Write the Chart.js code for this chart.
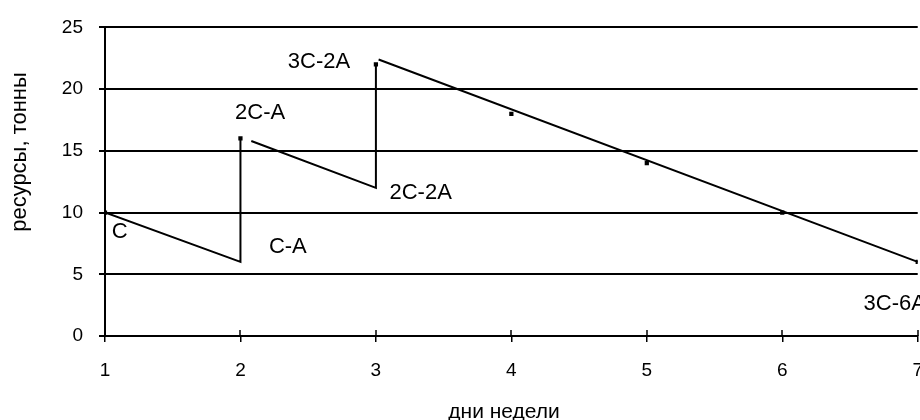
<!DOCTYPE html>
<html>
<head>
<meta charset="utf-8">
<script src="https://cdn.jsdelivr.net/npm/chart.js@4"></script>
<style>
  html, body { margin: 0; padding: 0; background: #fff; overflow: hidden; }
  #wrap { width: 940px; height: 420px; }
</style>
</head>
<body>
<div id="wrap"><canvas id="resChart" width="940" height="420"></canvas></div>
<script>
(function() {
    // дни недели (ось X)
    const days = [1, 2, 3, 4, 5, 6, 7];
    const yTicks = [0, 5, 10, 15, 20, 25];

    // ломаная: расход и пополнение ресурсов (null = разрыв)
    const pathX = [1, 2, 2, 2, 2.08, 3, 3, 3, 3.02, 7];
    const pathY = [10, 6, 16, null, 15.8, 12, 22, null, 22.4, 6];

    // точки-маркеры
    const markX = [1, 2, 3, 4, 5, 6, 7];
    const markY = [10, 16, 22, 18, 14, 10, 6];

    // подписи на графике
    const noteText = ['C', 'C-A', '2C-A', '3C-2A', '2C-2A', '3C-6A'];
    const noteX = [1.05, 2.21, 1.96, 2.35, 3.10, 6.60];
    const noteY = [8.4, 7.2, 18.1, 22.2, 11.55, 2.6];

    const xTitle = 'дни недели';
    const yTitle = 'ресурсы, тонны';

    const FONT = '"Liberation Sans", Arial, sans-serif';

    // подписи, заголовки осей и насечки над осью X
    const notesPlugin = {
        id: 'notes',
        afterDatasetsDraw(chart) {
            const ctx = chart.ctx;
            const xs = chart.scales.x, ys = chart.scales.y;
            ctx.save();
            ctx.strokeStyle = '#000';
            ctx.lineWidth = 1.5;
            const yb = ys.getPixelForValue(0);
            days.forEach(d => {
                const px = Math.round(xs.getPixelForValue(d));
                ctx.beginPath();
                ctx.moveTo(px, yb);
                ctx.lineTo(px, yb - 6);
                ctx.stroke();
            });
            ctx.fillStyle = '#000';
            ctx.font = '22px ' + FONT;
            ctx.textAlign = 'left';
            ctx.textBaseline = 'middle';
            noteText.forEach((t, i) => {
                ctx.fillText(t, xs.getPixelForValue(noteX[i]), ys.getPixelForValue(noteY[i]));
            });

            // заголовок оси X
            ctx.font = '21px ' + FONT;
            ctx.textAlign = 'center';
            ctx.textBaseline = 'alphabetic';
            ctx.fillText(xTitle, 504, 418);

            // заголовок оси Y
            ctx.translate(26, 152);
            ctx.rotate(-Math.PI / 2);
            ctx.font = '22px ' + FONT;
            ctx.fillText(yTitle, 0, 0);
            ctx.restore();
        }
    };

    const ctx = document.getElementById('resChart').getContext('2d');
    new Chart(ctx, {
        type: 'line',
        data: {
            datasets: [
                {
                    data: pathX.map((x, i) => ({ x: x, y: pathY[i] })),
                    borderColor: '#000',
                    borderWidth: 2,
                    pointRadius: 0,
                    tension: 0,
                    spanGaps: false
                },
                {
                    data: markX.map((x, i) => ({ x: x, y: markY[i] })),
                    showLine: false,
                    pointStyle: 'rect',
                    pointRadius: 3,
                    pointBackgroundColor: '#000',
                    pointBorderColor: '#000',
                    pointBorderWidth: 0
                }
            ]
        },
        options: {
            responsive: false,
            animation: false,
            devicePixelRatio: 1,
            layout: { padding: { top: 20, right: 20, left: 0, bottom: 0 } },
            plugins: {
                legend: { display: false },
                tooltip: { enabled: false }
            },
            scales: {
                x: {
                    type: 'linear',
                    min: 1,
                    max: 7,
                    afterBuildTicks: s => { s.ticks = days.map(v => ({ value: v })); },
                    afterFit: s => { s.height = 84; },
                    grid: {
                        drawOnChartArea: false,
                        color: '#000',
                        lineWidth: 1.5,
                        tickLength: 6
                    },
                    border: { display: true, color: '#000', width: 2 },
                    ticks: {
                        color: '#000',
                        padding: 17,
                        maxRotation: 0,
                        font: { family: FONT, size: 19 }
                    }
                },
                y: {
                    min: 0,
                    max: 25,
                    afterBuildTicks: s => { s.ticks = yTicks.map(v => ({ value: v })); },
                    afterFit: s => { s.width = 105; },
                    grid: {
                        color: '#000',
                        lineWidth: 2,
                        tickLength: 6
                    },
                    border: { display: true, color: '#000', width: 2 },
                    ticks: {
                        color: '#000',
                        padding: 16,
                        font: { family: FONT, size: 19 }
                    }
                }
            }
        },
        plugins: [notesPlugin]
    });
})();
</script>
</body>
</html>
